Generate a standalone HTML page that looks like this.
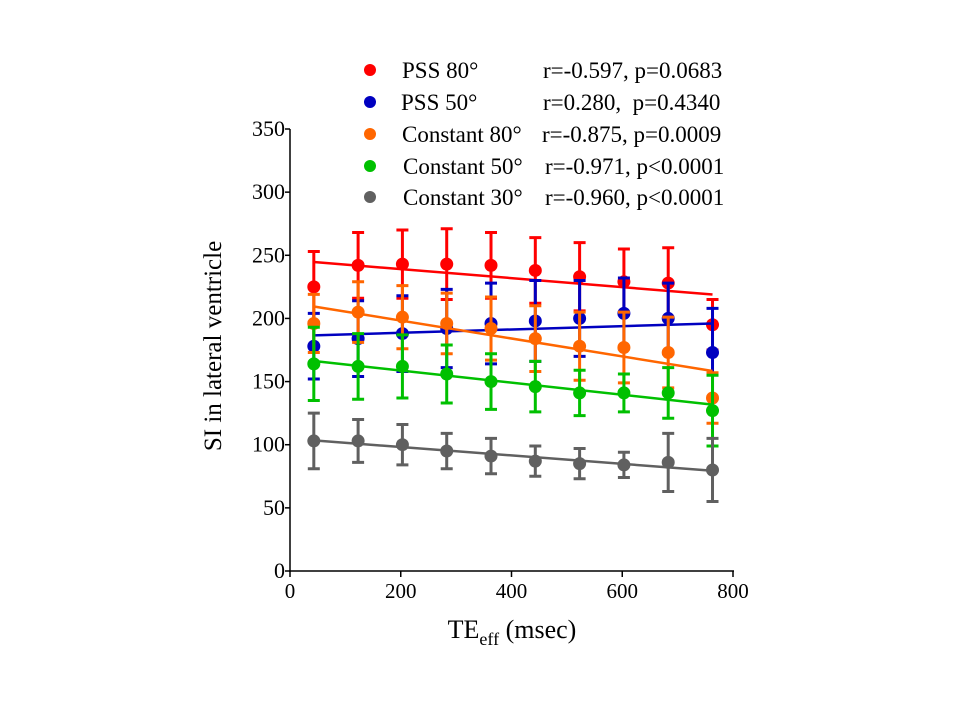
<!DOCTYPE html>
<html><head><meta charset="utf-8"><style>
body{margin:0;background:#fff;}
svg text{font-family:"Liberation Serif",serif;fill:#000;}
</style></head><body>
<svg id="chart" width="960" height="720" xmlns="http://www.w3.org/2000/svg"></svg>
<script>
const xValues=[43,123,203,283,363,443,523,603,683,763];
const seriesNames=["PSS 80°","PSS 50°","Constant 80°","Constant 50°","Constant 30°"];
const seriesStats=["r=-0.597, p=0.0683","r=0.280,  p=0.4340","r=-0.875, p=0.0009","r=-0.971, p<0.0001","r=-0.960, p<0.0001"];
const seriesColors=["#ff0000","#0000c0","#ff6600","#00c000","#606060"];
const pss80=[225,242,243,243,242,238,233,229,228,195];
const pss80Err=[28,26,27,28,26,26,27,26,28,20];
const pss50=[178,184,188,192,196,198,200,204,200,173];
const pss50Err=[26,30,30,31,32,32,30,28,28,35];
const const80=[196,205,201,196,192,184,178,177,173,137];
const const80Err=[23,24,25,24,25,26,27,28,28,20];
const const50=[164,162,162,156,150,146,141,141,141,127];
const const50Err=[29,26,25,23,22,20,18,15,20,28];
const const30=[103,103,100,95,91,87,85,84,86,80];
const const30Err=[22,17,16,14,14,12,12,10,23,25];
const xTicks=[0,200,400,600,800];
const yTicks=[0,50,100,150,200,250,300,350];
const allSeries=[[pss80,pss80Err],[pss50,pss50Err],[const80,const80Err],[const50,const50Err],[const30,const30Err]];

const svg=document.getElementById('chart');
const NS="http://www.w3.org/2000/svg";
const X=v=>290+v*(443/800);
const Y=v=>571-v*(442/350);
function mk(tag,attrs,parent){const e=document.createElementNS(NS,tag);for(const k in attrs)e.setAttribute(k,attrs[k]);(parent||svg).appendChild(e);return e;}

let ax=mk('line',{x1:290,y1:129,x2:290,y2:572,stroke:'#000','stroke-width':1.5});


ax=mk('line',{x1:289,y1:571,x2:734,y2:571,stroke:'#000','stroke-width':1.5});


yTicks.forEach(t=>{
  const l=mk('line',{x1:285,y1:Y(t),x2:290,y2:Y(t),stroke:'#000','stroke-width':1.5});
  
  
  const tx=mk('text',{x:285,y:Y(t)+7,'text-anchor':'end','font-size':22});
  tx.textContent=t;
  
  
});
xTicks.forEach(t=>{
  const l=mk('line',{x1:X(t),y1:571,x2:X(t),y2:577,stroke:'#000','stroke-width':1.5});
  
  
  const tx=mk('text',{x:X(t),y:598,'text-anchor':'middle','font-size':21});
  tx.textContent=t;
  
  
});
let yl=mk('text',{x:0,y:0,transform:'translate(221,346) rotate(-90)','text-anchor':'middle','font-size':25});
yl.textContent='SI in lateral ventricle';


let xl=mk('text',{x:512,y:638,'text-anchor':'middle','font-size':26});
xl.innerHTML='TE<tspan font-size="18" dy="7">eff</tspan><tspan dy="-7"> (msec)</tspan>';



allSeries.forEach(([vals,errs],si)=>{
  const c=seriesColors[si];
  const g=mk('g',{});
  
  
  const n=vals.length;const mx=xValues.reduce((a,b)=>a+b)/n;const my=vals.reduce((a,b)=>a+b)/n;
  let sxy=0,sxx=0;for(let i=0;i<n;i++){sxy+=(xValues[i]-mx)*(vals[i]-my);sxx+=(xValues[i]-mx)**2;}
  const b=sxy/sxx,a=my-b*mx;
  const x0=xValues[0],x1=xValues[n-1];
  const fl=mk('line',{x1:X(x0),y1:Y(a+b*x0),x2:X(x1),y2:Y(a+b*x1),stroke:c,'stroke-width':2.5},g);
  
  
  vals.forEach((v,i)=>{
    const x=X(xValues[i]),e=errs[i];
    const eb=mk('path',{d:`M${x},${Y(v+e)}V${Y(v-e)}M${x-6},${Y(v+e)}H${x+6}M${x-6},${Y(v-e)}H${x+6}`,stroke:c,'stroke-width':3,fill:'none'},g);
    
    
    const p=mk('circle',{cx:x,cy:Y(v),r:6.5,fill:c},g);
    
    
  });
});

const legY=[70,102,134,166,197];
const nameX=[402,401,402,403,403];
const statX=[543,543,542,545,545];
seriesNames.forEach((nm,i)=>{
  const g=mk('g',{});
  
  
  mk('circle',{cx:370,cy:legY[i],r:6,fill:seriesColors[i]},g);
  const t=mk('text',{x:nameX[i],y:legY[i]+8,'font-size':23},g);
  t.textContent=nm;
  const s=mk('text',{x:statX[i],y:legY[i]+8,'font-size':23},g);
  s.setAttribute('style','white-space:pre');
  s.textContent=seriesStats[i];
});
</script>
</body></html>
